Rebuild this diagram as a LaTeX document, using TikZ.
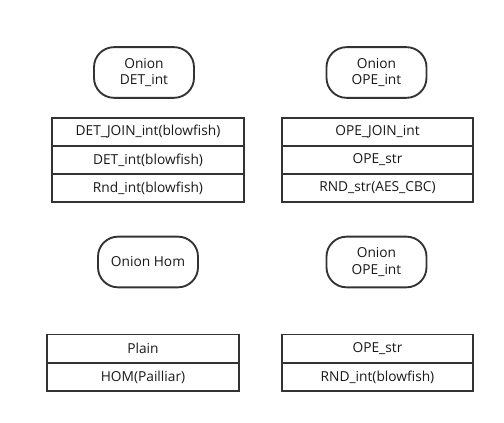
\documentclass[tikz,border=0pt]{standalone}
\usepackage{fontspec}
\setmainfont{Open Sans}
\begin{document}
\begin{tikzpicture}[x=0.75pt,y=-0.75pt,
  every node/.style={font=\fontsize{10.3pt}{12.2pt}\selectfont, text=black!90, inner sep=0pt, outer sep=0pt},
  onion/.style={draw=black!80, line width=1.4pt, rounded corners=15pt, minimum width=75pt, minimum height=38pt, align=center},
  row/.style={draw=black!80, line width=1.4pt, minimum height=21pt, anchor=north west}]
\useasboundingbox (0,0) rectangle (504,423);
% top left
\node[onion] (o1) at (144,72.5) {Onion\\DET\_int};
\node[row, minimum width=144pt] (r11) at (52,118) {DET\_JOIN\_int(blowfish)};
\node[row, minimum width=144pt] (r12) at (52,146) {DET\_int(blowfish)};
\node[row, minimum width=144pt] (r13) at (52,174) {Rnd\_int(blowfish)};
% top right
\node[onion] (o2) at (376.5,72.5) {Onion\\OPE\_int};
\node[row, minimum width=143.25pt] (r21) at (282,118) {OPE\_JOIN\_int};
\node[row, minimum width=143.25pt] (r22) at (282,146) {OPE\_str};
\node[row, minimum width=143.25pt] (r23) at (282,174) {RND\_str(AES\_CBC)};
% bottom left
\node[onion] (o3) at (148,262) {Onion Hom};
\node[row, minimum width=144pt] (r31) at (47,334.5) {Plain};
\node[row, minimum width=144pt] (r32) at (47,363) {HOM(Pailliar)};
% bottom right
\node[onion] (o4) at (376.5,262) {Onion\\OPE\_int};
\node[row, minimum width=143.25pt] (r41) at (282,334.5) {OPE\_str};
\node[row, minimum width=143.25pt] (r42) at (282,363) {RND\_int(blowfish)};
\end{tikzpicture}
\end{document}
